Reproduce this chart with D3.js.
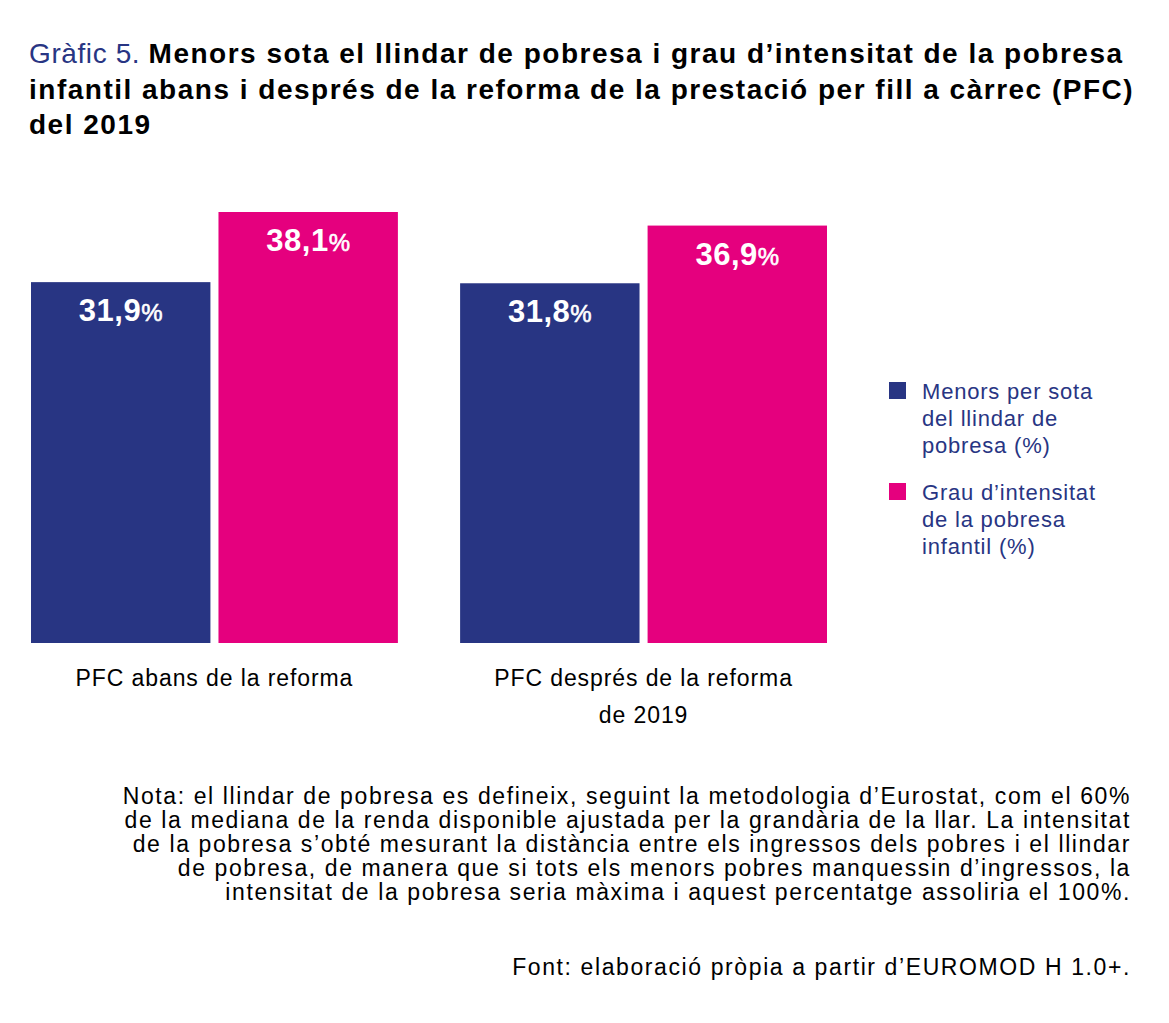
<!DOCTYPE html>
<html>
<head>
<meta charset="utf-8">
<script src="https://cdn.jsdelivr.net/npm/d3@7"></script>
<style>
  body { margin: 0; background: #fff; }
  svg { display: block; font-family: "Liberation Sans", Arial, sans-serif; }
</style>
</head>
<body>
<div id="chart"></div>
<script>
// Data
const categories = ["PFC abans de la reforma", "PFC després de la reforma de 2019"];
const categoryLines = [["PFC abans de la reforma"], ["PFC després de la reforma", "de 2019"]];
const seriesNames = ["Menors per sota del llindar de pobresa (%)", "Grau d’intensitat de la pobresa infantil (%)"];
const legendLines = [["Menors per sota", "del llindar de", "pobresa (%)"], ["Grau d’intensitat", "de la pobresa", "infantil (%)"]];
const belowThreshold = [31.9, 31.8];
const intensity = [38.1, 36.9];
const titleLines = [
  "Menors sota el llindar de pobresa i grau d’intensitat de la pobresa",
  "infantil abans i després de la reforma de la prestació per fill a càrrec (PFC)",
  "del 2019"
];
const noteLines = [
  "Nota: el llindar de pobresa es defineix, seguint la metodologia d’Eurostat, com el 60%",
  "de la mediana de la renda disponible ajustada per la grandària de la llar. La intensitat",
  "de la pobresa s’obté mesurant la distància entre els ingressos dels pobres i el llindar",
  "de pobresa, de manera que si tots els menors pobres manquessin d’ingressos, la",
  "intensitat de la pobresa seria màxima i aquest percentatge assoliria el 100%."
];
const sourceText = "Font: elaboració pròpia a partir d’EUROMOD H 1.0+.";

const navy = "#283583";
const magenta = "#e5007e";
const colors = [navy, magenta];

const width = 1169;
const height = 1023;

const svg = d3.select("#chart")
  .append("svg")
  .attr("width", width)
  .attr("height", height);

// Title
const title = svg.append("text")
  .attr("x", 29)
  .attr("y", 63)
  .style("font-size", "28px")
  .style("letter-spacing", "1.5px");

titleLines.forEach((line, i) => {
  const t = title.append("tspan")
    .attr("x", 29)
    .attr("dy", i === 0 ? 0 : 35.5);
  if (i === 0) {
    t.append("tspan")
      .attr("fill", navy)
      .style("letter-spacing", "0.6px")
      .text("Gràfic 5. ");
  }
  t.append("tspan")
    .attr("font-weight", "bold")
    .attr("fill", "#000")
    .text(line);
});

// Scales
const x0 = d3.scaleBand()
  .domain(categories)
  .range([31, 827])
  .paddingInner(0.145);

const x1 = d3.scaleBand()
  .domain(seriesNames)
  .range([0, x0.bandwidth()])
  .paddingInner(0.043);

const y = d3.scaleLinear()
  .domain([0, 38.1])
  .range([643, 212]);

const rows = categories.map((c, i) => ({
  category: c,
  values: [belowThreshold[i], intensity[i]]
}));

// Bars
const groups = svg.selectAll("g.group")
  .data(rows)
  .enter()
  .append("g")
  .attr("class", "group")
  .attr("transform", d => `translate(${x0(d.category)},0)`);

groups.selectAll("rect")
  .data(d => d.values.map((v, j) => ({ series: seriesNames[j], value: v, j })))
  .enter()
  .append("rect")
  .attr("x", d => x1(d.series))
  .attr("y", d => y(d.value))
  .attr("width", x1.bandwidth())
  .attr("height", d => y(0) - y(d.value))
  .attr("fill", d => colors[d.j]);

// Value labels
const labels = groups.selectAll("text.value")
  .data(d => d.values.map((v, j) => ({ series: seriesNames[j], value: v, j })))
  .enter()
  .append("text")
  .attr("class", "value")
  .attr("x", d => x1(d.series) + x1.bandwidth() / 2)
  .attr("y", d => y(d.value) + 39)
  .attr("text-anchor", "middle")
  .attr("fill", "#fff");

labels.append("tspan")
  .style("font-size", "31px")
  .style("letter-spacing", "0.5px")
  .attr("font-weight", "bold")
  .text(d => d3.format(".1f")(d.value).replace(".", ","));

labels.append("tspan")
  .style("font-size", "24px")
  .style("stroke", "#fff")
  .style("stroke-width", "0.6px")
  .text("%");

// Category labels
svg.selectAll("text.category")
  .data(categories)
  .enter()
  .append("text")
  .attr("class", "category")
  .attr("text-anchor", "middle")
  .attr("fill", "#000")
  .style("font-size", "23px")
  .style("letter-spacing", "0.9px")
  .each(function(d, i) {
    const cx = x0(d) + x0.bandwidth() / 2;
    categoryLines[i].forEach((line, k) => {
      d3.select(this).append("tspan")
        .attr("x", cx)
        .attr("y", 686 + k * 37)
        .text(line);
    });
  });

// Legend
const legend = svg.append("g")
  .attr("transform", "translate(889,382)");

legendLines.forEach((lines, i) => {
  const g = legend.append("g")
    .attr("transform", `translate(0,${i * 101})`);
  g.append("rect")
    .attr("width", 17)
    .attr("height", 17)
    .attr("fill", colors[i]);
  const t = g.append("text")
    .attr("fill", navy)
    .style("font-size", "22px")
    .style("letter-spacing", "0.8px");
  lines.forEach((line, k) => {
    t.append("tspan")
      .attr("x", 33)
      .attr("y", 17 + k * 27)
      .text(line);
  });
});

// Note and source
const note = svg.append("text")
  .attr("text-anchor", "end")
  .attr("fill", "#000")
  .style("font-size", "23px")
  .style("letter-spacing", "1.6px");

noteLines.forEach((line, i) => {
  note.append("tspan")
    .attr("x", 1131)
    .attr("y", 804 + i * 24)
    .text(line);
});

svg.append("text")
  .attr("x", 1131)
  .attr("y", 975)
  .attr("text-anchor", "end")
  .attr("fill", "#000")
  .style("font-size", "23px")
  .style("letter-spacing", "1.6px")
  .text(sourceText);
</script>
</body>
</html>
